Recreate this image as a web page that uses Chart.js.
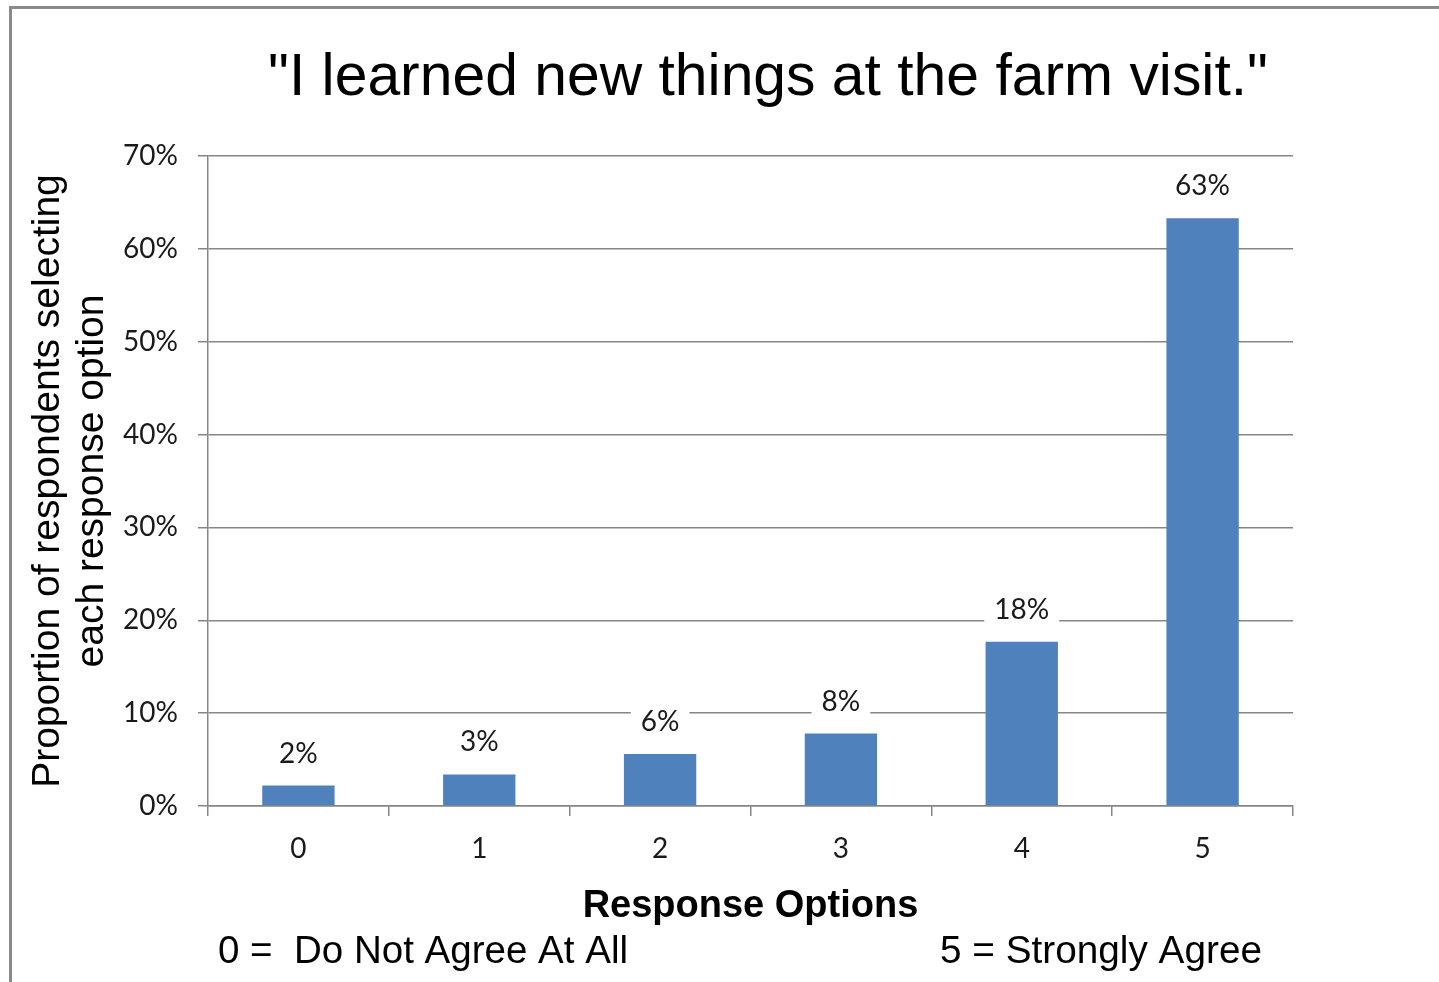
<!DOCTYPE html>
<html>
<head>
<meta charset="utf-8">
<title>Farm visit survey</title>
<script src="https://cdn.jsdelivr.net/npm/chart.js@4/dist/chart.umd.min.js"></script>
<style>
  html, body { margin: 0; padding: 0; background: #fff; }
  #wrap { width: 1439px; height: 982px; position: relative; }
</style>
</head>
<body>
<div id="wrap"><canvas id="farmChart" width="1439" height="982"></canvas></div>
<script>
// data
const categories = ['0', '1', '2', '3', '4', '5'];
const proportions = [2.2, 3.4, 5.6, 7.8, 17.7, 63.3];
const valueLabels = ['2%', '3%', '6%', '8%', '18%', '63%'];
const yTicks = [0, 10, 20, 30, 40, 50, 60, 70];

const chartTitle = '"I learned new things at the farm visit."';
const yTitle = ['Proportion of respondents selecting', 'each response option'];
const xTitle = 'Response Options';
const lowNote = '0 =  Do Not Agree At All';
const highNote = '5 = Strongly Agree';

const gridColor = '#868686';
const labelFont = 'Lato, "Open Sans", sans-serif';
const arialFont = '"Liberation Sans", Arial, sans-serif';

// frame, title, bar value labels and footnotes
const decorations = {
  id: 'decorations',
  beforeDraw(chart) {
    const ctx = chart.ctx;
    ctx.save();
    ctx.strokeStyle = '#8a8a8a';
    ctx.lineWidth = 3;
    ctx.beginPath();
    ctx.moveTo(10.5, 990);
    ctx.lineTo(10.5, 7.5);
    ctx.lineTo(1445, 7.5);
    ctx.stroke();
    ctx.restore();
  },
  afterDatasetsDraw(chart) {
    const ctx = chart.ctx;
    const meta = chart.getDatasetMeta(0);
    ctx.save();
    ctx.font = '28px ' + labelFont;
    ctx.textAlign = 'center';
    ctx.textBaseline = 'middle';
    meta.data.forEach((bar, i) => {
      const txt = valueLabels[i];
      const cy = bar.y - 32;
      const w = ctx.measureText(txt).width;
      ctx.fillStyle = '#fff';
      ctx.fillRect(bar.x - w / 2 - 10, cy - 15, w + 20, 30);
      ctx.fillStyle = '#1a1a1a';
      ctx.fillText(txt, bar.x, cy);
    });

    ctx.fillStyle = '#000';
    ctx.font = '59px ' + arialFont;
    ctx.fillText(chartTitle, 768, 79, 1000);

    ctx.font = '39px ' + arialFont;
    ctx.textAlign = 'left';
    ctx.fillText(lowNote, 218, 952, 410);
    ctx.fillText(highNote, 940, 952, 322);
    ctx.restore();
  }
};

new Chart(document.getElementById('farmChart').getContext('2d'), {
  type: 'bar',
  data: {
    labels: categories,
    datasets: [{
      data: proportions,
      backgroundColor: '#4F81BD',
      borderWidth: 0,
      barPercentage: 0.4,
      categoryPercentage: 1.0
    }]
  },
  options: {
    responsive: false,
    animation: false,
    layout: { padding: { top: 156, right: 146, bottom: 0, left: 0 } },
    plugins: {
      legend: { display: false },
      tooltip: { enabled: false },
      title: { display: false }
    },
    scales: {
      x: {
        afterFit(scale) { scale.height = 176; },
        border: { color: gridColor, width: 1.5 },
        grid: {
          offset: true,
          drawOnChartArea: false,
          drawTicks: true,
          tickLength: 10,
          color: gridColor,
          lineWidth: 1.5
        },
        ticks: {
          color: '#1a1a1a',
          padding: 16,
          font: { family: labelFont, size: 28 }
        },
        title: {
          display: true,
          text: xTitle,
          color: '#000',
          font: { family: arialFont, size: 38, weight: 'bold' },
          padding: { top: 0, bottom: 53 }
        }
      },
      y: {
        min: 0,
        max: 70,
        afterFit(scale) { scale.width = 208; },
        afterBuildTicks(scale) { scale.ticks = yTicks.map(v => ({ value: v })); },
        border: { color: gridColor, width: 1.5 },
        grid: {
          color: gridColor,
          lineWidth: 1.5,
          drawTicks: true,
          tickLength: 10
        },
        ticks: {
          color: '#1a1a1a',
          padding: 20,
          font: { family: labelFont, size: 28 },
          callback: v => v + '%'
        },
        title: {
          display: true,
          text: yTitle,
          color: '#000',
          font: { family: arialFont, size: 39, lineHeight: 1.13 },
          padding: { top: 26, bottom: 0 }
        }
      }
    }
  },
  plugins: [decorations]
});
</script>
</body>
</html>
